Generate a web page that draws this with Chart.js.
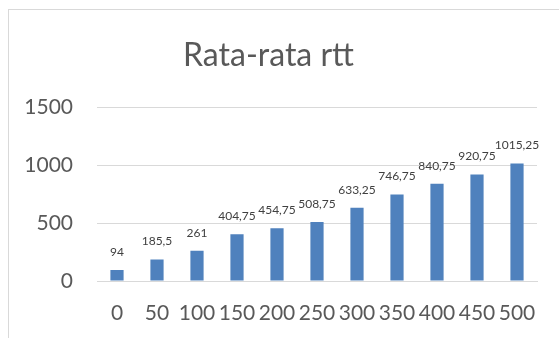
<!DOCTYPE html>
<html>
<head>
<meta charset="utf-8">
<script src="https://cdn.jsdelivr.net/npm/chart.js@4"></script>
<style>
  html, body { margin: 0; padding: 0; background: #fff; }
  #wrap { position: relative; width: 559px; height: 338px; overflow: hidden; }
  #frame { position: absolute; left: 8px; top: 9px; width: 600px; height: 400px; border: 1px solid #d9d9d9; box-sizing: border-box; }
  canvas { position: absolute; left: 0; top: 0; }
</style>
</head>
<body>
<div id="wrap">
  <div id="frame"></div>
  <canvas id="c" width="559" height="338"></canvas>
</div>
<script>
const categories = ['0', '50', '100', '150', '200', '250', '300', '350', '400', '450', '500'];
const rttValues = [94, 185.5, 261, 404.75, 454.75, 508.75, 633.25, 746.75, 840.75, 920.75, 1015.25];
const yTicks = [0, 500, 1000, 1500];

const FONT = "Lato, 'Open Sans', sans-serif";

// value labels above each bar, using a decimal comma
const valueLabels = {
  id: 'valueLabels',
  afterDatasetsDraw(chart) {
    const ctx = chart.ctx;
    const meta = chart.getDatasetMeta(0);
    ctx.save();
    ctx.font = '12px ' + FONT;
    ctx.fillStyle = '#404040';
    ctx.textAlign = 'center';
    ctx.textBaseline = 'middle';
    meta.data.forEach((bar, i) => {
      const txt = String(rttValues[i]).replace('.', ',');
      ctx.fillText(txt, bar.x, bar.y - 18);
    });
    ctx.restore();
  }
};

new Chart(document.getElementById('c'), {
  type: 'bar',
  data: {
    labels: categories,
    datasets: [{
      label: 'Rata-rata rtt',
      data: rttValues,
      backgroundColor: '#4F81BD',
      borderWidth: 0,
      categoryPercentage: 1,
      barPercentage: 0.33
    }]
  },
  options: {
    responsive: false,
    animation: false,
    layout: { padding: { left: 0, right: 22, top: 0, bottom: 0 } },
    plugins: {
      legend: { display: false },
      tooltip: { enabled: false },
      title: {
        display: true,
        text: 'Rata-rata rtt',
        color: '#595959',
        font: { family: FONT, size: 32, weight: 'normal' },
        padding: { top: 36, bottom: 33 }
      }
    },
    scales: {
      x: {
        grid: { display: false, drawTicks: false },
        border: { display: true, color: '#d9d9d9', width: 1 },
        ticks: {
          color: '#595959',
          font: { family: FONT, size: 21 },
          padding: 20,
          maxRotation: 0,
          autoSkip: false
        },
        afterFit(scale) { scale.height = 57; }
      },
      y: {
        min: 0,
        max: 1500,
        afterBuildTicks(scale) { scale.ticks = yTicks.map(v => ({ value: v })); },
        grid: { color: '#d9d9d9', lineWidth: 1, drawTicks: false },
        border: { display: false },
        ticks: {
          color: '#595959',
          font: { family: FONT, size: 21 },
          padding: 24,
          callback: (v) => String(v)
        },
        afterFit(scale) { scale.width = 97; }
      }
    }
  },
  plugins: [valueLabels]
});
</script>
</body>
</html>
